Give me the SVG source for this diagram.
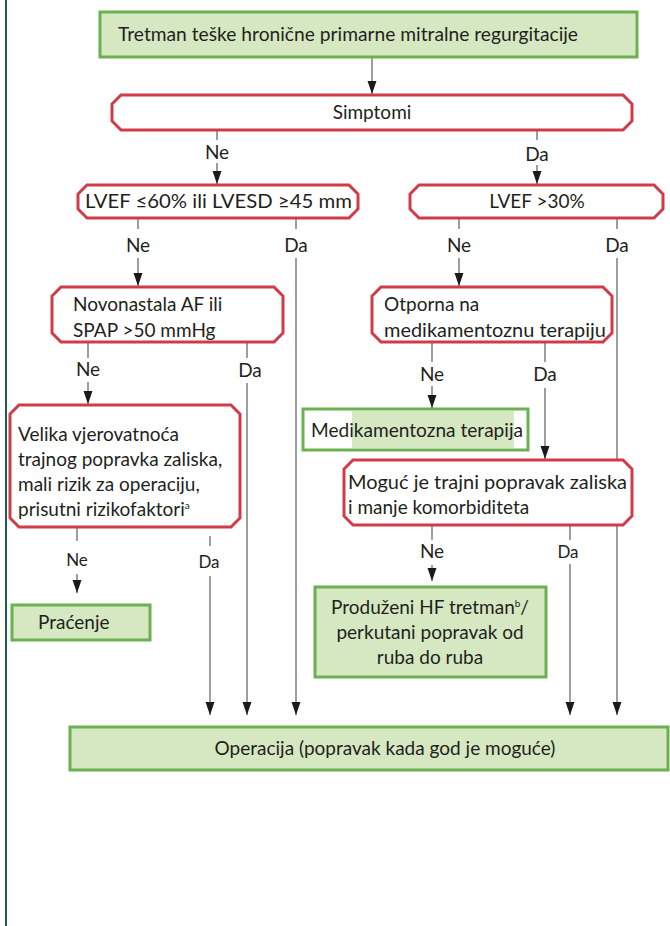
<svg xmlns="http://www.w3.org/2000/svg" width="670" height="926" viewBox="0 0 670 926">
<style>
text{font-family:Lato,"Open Sans","DejaVu Sans",sans-serif;fill:#231f20;font-size:19px}
.c{text-anchor:middle}
.lbl{font-size:19px;text-anchor:middle}
.sm{font-size:17px}
.red{fill:#fff;stroke:#d13b48;stroke-width:3}
.grn{fill:#d5e8c2;stroke:#6cb050;stroke-width:3}
.ln{stroke:#6a6a6a;stroke-width:1.3;fill:none}
.ar{stroke:#6a6a6a;stroke-width:1.3;fill:none;marker-end:url(#ah)}
</style>
<defs>
<marker id="ah" markerUnits="userSpaceOnUse" markerWidth="14" markerHeight="10" refX="13" refY="5" orient="auto">
<path d="M0,0.5 L13,5 L0,9.5 Z" fill="#1a1a1a"/>
</marker>
</defs>
<rect width="670" height="926" fill="#fff"/>
<line x1="6" y1="0" x2="6" y2="926" stroke="#1f5f50" stroke-width="2"/>

<g id="connectors">
<line class="ar" x1="372" y1="57" x2="372" y2="94"/>
<line class="ln" x1="217" y1="131" x2="217" y2="140"/><text class="lbl" x="217" y="159">Ne</text><line class="ar" x1="217" y1="163" x2="217" y2="184"/>
<line class="ln" x1="537" y1="131" x2="537" y2="140"/><text class="lbl" x="537" y="161">Da</text><line class="ar" x1="537" y1="165" x2="537" y2="184"/>
<line class="ln" x1="138" y1="219" x2="138" y2="229"/><text class="lbl" x="138" y="252">Ne</text><line class="ar" x1="138" y1="258" x2="138" y2="286"/>
<line class="ln" x1="296" y1="219" x2="296" y2="229"/><text class="lbl" x="296" y="252">Da</text><line class="ar" x1="296" y1="258" x2="296" y2="715"/>
<line class="ln" x1="459" y1="219" x2="459" y2="229"/><text class="lbl" x="459" y="252">Ne</text><line class="ar" x1="459" y1="258" x2="459" y2="286"/>
<line class="ln" x1="617" y1="219" x2="617" y2="229"/><text class="lbl" x="617" y="252">Da</text><line class="ar" x1="617" y1="258" x2="617" y2="715"/>
<line class="ln" x1="88" y1="343" x2="88" y2="358"/><text class="lbl" x="88" y="376">Ne</text><line class="ar" x1="88" y1="382" x2="88" y2="404"/>
<line class="ln" x1="247" y1="343" x2="247" y2="358"/><text class="lbl" x="250" y="377">Da</text><line class="ar" x1="247" y1="383" x2="247" y2="715"/>
<line class="ln" x1="432" y1="343" x2="432" y2="362"/><text class="lbl" x="432" y="381">Ne</text><line class="ar" x1="432" y1="386" x2="432" y2="408"/>
<line class="ln" x1="545" y1="343" x2="545" y2="362"/><text class="lbl" x="545" y="381">Da</text><line class="ar" x1="545" y1="388" x2="545" y2="459"/>
<line class="ln" x1="77" y1="528" x2="77" y2="541"/><text class="lbl sm" x="77" y="566">Ne</text><line class="ar" x1="77" y1="574" x2="77" y2="593"/>
<line class="ln" x1="210" y1="536" x2="210" y2="546"/><text class="lbl sm" x="209" y="568">Da</text><line class="ar" x1="210" y1="576" x2="210" y2="715"/>
<line class="ln" x1="432" y1="526" x2="432" y2="540"/><text class="lbl" x="432" y="558">Ne</text><line class="ar" x1="432" y1="565" x2="432" y2="581"/>
<line class="ln" x1="570" y1="526" x2="570" y2="540"/><text class="lbl sm" x="568" y="558">Da</text><line class="ar" x1="570" y1="564" x2="570" y2="715"/>
</g>

<g id="title">
<rect class="grn" x="100" y="12" width="537" height="45"/>
<text x="118" y="41" textLength="460" lengthAdjust="spacingAndGlyphs">Tretman teške hronične primarne mitralne regurgitacije</text>
</g>
<g id="simptomi">
<path class="red" d="M121,95 H623 L632,104 V121 L623,130 H121 L112,121 V104 Z"/>
<text class="c" x="372" y="119">Simptomi</text>
</g>
<g id="lvef60">
<path class="red" d="M87,185 H349 L358,194 V209 L349,218 H87 L78,209 V194 Z"/>
<text x="85" y="208" textLength="267" lengthAdjust="spacingAndGlyphs">LVEF ≤60% ili LVESD ≥45 mm</text>
</g>
<g id="lvef30">
<path class="red" d="M419,185 H654 L663,194 V209 L654,218 H419 L410,209 V194 Z"/>
<text class="c" x="537" y="208">LVEF &gt;30%</text>
</g>
<g id="novonastala">
<path class="red" d="M61,287 H274 L283,296 V333 L274,342 H61 L52,333 V296 Z"/>
<text x="73" y="311">Novonastala AF ili</text>
<text x="73" y="337">SPAP &gt;50 mmHg</text>
</g>
<g id="otporna">
<path class="red" d="M381,287 H603 L612,296 V333 L603,342 H381 L372,333 V296 Z"/>
<text x="384" y="311">Otporna na</text>
<text x="384" y="337" textLength="222" lengthAdjust="spacingAndGlyphs">medikamentoznu terapiju</text>
</g>
<g id="medikamentozna">
<rect x="303" y="409" width="225" height="41" fill="#fff" stroke="#6cb050" stroke-width="3"/>
<rect x="352" y="411" width="162" height="37" fill="#d5e8c2"/>
<text x="311" y="437" textLength="212" lengthAdjust="spacingAndGlyphs">Medikamentozna terapija</text>
</g>
<g id="velika">
<path class="red" d="M19,405 H231 L240,414 V518 L231,527 H19 L10,518 V414 Z"/>
<text x="18" y="441">Velika vjerovatnoća</text>
<text x="18" y="466">trajnog popravka zaliska,</text>
<text x="18" y="491">mali rizik za operaciju,</text>
<text x="18" y="516">prisutni rizikofaktori<tspan font-size="10" dy="-7">a</tspan></text>
</g>
<g id="moguci">
<path class="red" d="M353,460 H623 L632,469 V516 L623,525 H353 L344,516 V469 Z"/>
<text x="348" y="489" textLength="279" lengthAdjust="spacingAndGlyphs">Moguć je trajni popravak zaliska</text>
<text x="348" y="514">i manje komorbiditeta</text>
</g>
<g id="pracenje">
<rect class="grn" x="12" y="605" width="138" height="35"/>
<text x="38" y="629">Praćenje</text>
</g>
<g id="produzeni">
<rect class="grn" x="315" y="587" width="231" height="90"/>
<text class="c" x="430" y="614">Produženi HF tretman<tspan font-size="10" dy="-7">b</tspan><tspan dy="7">/</tspan></text>
<text class="c" x="430" y="639">perkutani popravak od</text>
<text class="c" x="430" y="664">ruba do ruba</text>
</g>
<g id="operacija">
<rect class="grn" x="70" y="727" width="598" height="43"/>
<text class="c" x="385" y="755">Operacija (popravak kada god je moguće)</text>
</g>
</svg>
